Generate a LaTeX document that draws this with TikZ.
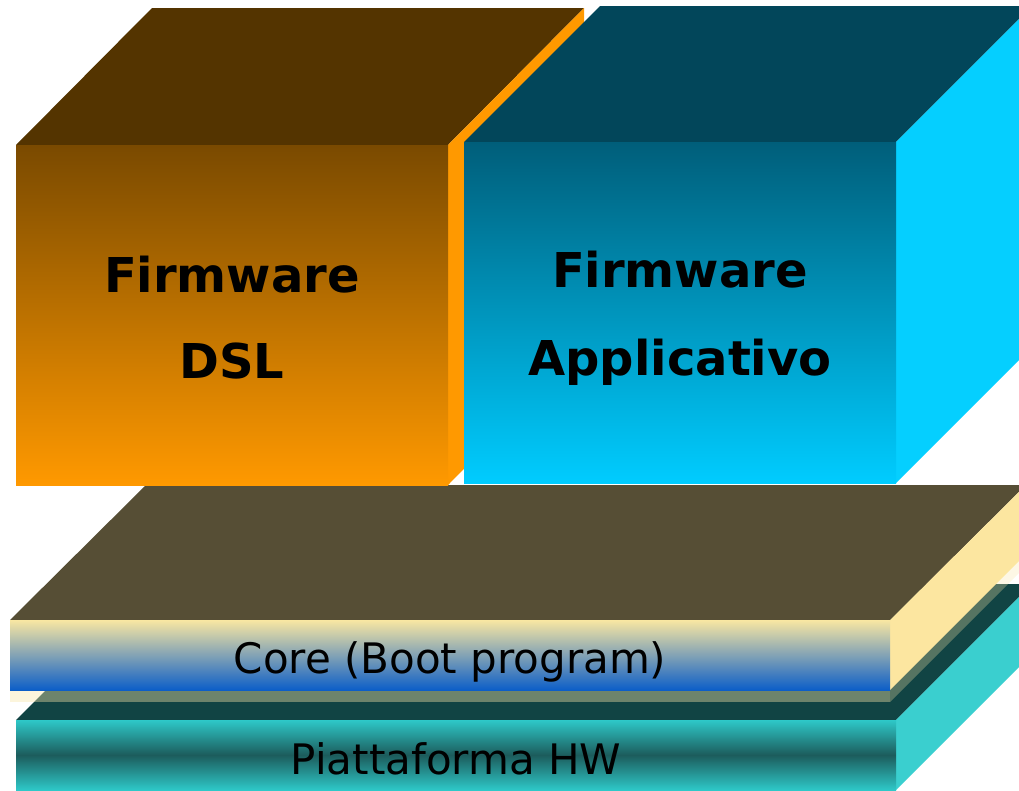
\documentclass[tikz,border=0pt]{standalone}
\usepackage{fontspec}
\setmainfont{DejaVu Sans}
\definecolor{orTopFace}{HTML}{543400}
\definecolor{orFrontTop}{HTML}{7A4A00}
\definecolor{orFrontBot}{HTML}{FF9900}
\definecolor{orSide}{HTML}{FF9900}
\definecolor{blTopFace}{HTML}{02465A}
\definecolor{blFrontTop}{HTML}{005E7A}
\definecolor{blFrontBot}{HTML}{00CCFF}
\definecolor{blSide}{HTML}{05CFFF}
\definecolor{coTopFace}{HTML}{564E35}
\definecolor{coFrontTop}{HTML}{F9E7A2}
\definecolor{coFrontBot}{HTML}{0C5EC8}
\definecolor{coSide}{HTML}{FCE6A0}
\definecolor{slab}{HTML}{F8E6A8}
\definecolor{hwTopFace}{HTML}{114444}
\definecolor{hwSide}{HTML}{3ACFCF}
\definecolor{hwFrontTop}{HTML}{2EC8C8}
\definecolor{hwFrontMid}{HTML}{1C5C5C}
\tikzset{
  bigtxt/.style={font=\fontsize{48}{56}\selectfont\bfseries, anchor=base, inner sep=0pt},
  smalltxt/.style={font=\fontsize{42}{50}\selectfont, anchor=base, inner sep=0pt},
}
\begin{document}
\begin{tikzpicture}[x=1pt,y=-1pt]
\useasboundingbox (0,0) rectangle (1019,790);
\clip (0,0) rectangle (1019,790);
% Piattaforma HW
\fill[hwTopFace] (16,720) -- (152,584) -- (1032,584) -- (896,720) -- cycle;
\fill[hwSide] (896,720) -- (1032,584) -- (1032,654) -- (896,790) -- cycle;
\shade[top color=hwFrontTop, bottom color=hwFrontTop, middle color=hwFrontMid] (16,720) rectangle (896,790);
% translucent slab under core
\fill[slab, opacity=0.4] (10,690) -- (890,690) -- (890,702) -- (10,702) -- cycle;
\fill[slab, opacity=0.3] (890,690) -- (1026,554) -- (1026,566) -- (890,702) -- cycle;
% Core
\fill[coTopFace] (10,620) -- (146,485) -- (1026,485) -- (890,620) -- cycle;
\fill[coSide] (890,620) -- (1026,485) -- (1026,554) -- (890,690) -- cycle;
\shade[top color=coFrontTop, bottom color=coFrontBot] (10,620) rectangle (890,690);
% Firmware DSL box
\fill[orTopFace] (16,145) -- (152,8) -- (584,8) -- (448,145) -- cycle;
\fill[orSide] (448,145) -- (584,8) -- (584,348) -- (448,485) -- cycle;
\shade[top color=orFrontTop, bottom color=orFrontBot] (16,145) rectangle (448,485);
% Firmware Applicativo box
\fill[blTopFace] (464,142) -- (600,6) -- (1032,6) -- (896,142) -- cycle;
\fill[blSide] (896,142) -- (1032,6) -- (1032,347) -- (896,483) -- cycle;
\shade[top color=blFrontTop, bottom color=blFrontBot] (464,142) rectangle (896,483);
% texts
\node[bigtxt] (dsl1) at (232,292) {Firmware};
\node[bigtxt] (dsl2) at (232,378) {DSL};
\node[bigtxt] (app1) at (680,287) {Firmware};
\node[bigtxt] (app2) at (680,375) {Applicativo};
\node[smalltxt] (core) at (450,673) {Core (Boot program)};
\node[smalltxt] (hw) at (456,774) {Piattaforma HW};
\end{tikzpicture}
\end{document}
